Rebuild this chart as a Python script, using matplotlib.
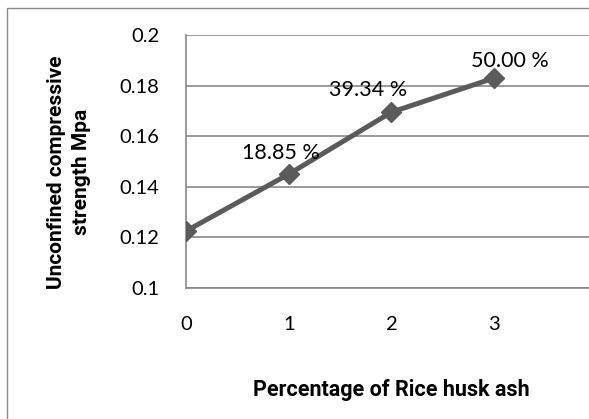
import matplotlib.pyplot as plt
from matplotlib.patches import Rectangle

plt.rcParams['font.family'] = ['Lato', 'DejaVu Sans']

# Data
rha_level = [0, 1, 2, 3]
ucs = [0.1225, 0.145, 0.1695, 0.183]
gain_labels = ['', '18.85 %', '39.34 %', '50.00 %']
label_offsets = [(0, 0), (-6, 15), (-17, 16), (11, 12)]
y_ticks = [0.1, 0.12, 0.14, 0.16, 0.18, 0.2]
y_tick_labels = ['0.1', '0.12', '0.14', '0.16', '0.18', '0.2']

grid_c = '#878787'
line_c = '#5b5b5b'
fs = 14.5
fs_lab = 15.5
bold_font = ['Roboto', 'DejaVu Sans']

fig = plt.figure(figsize=(5.89, 4.19), dpi=100)
fig.patch.set_facecolor('white')

# chart frame (left and top edges only are inside the image)
fig.patches.append(Rectangle((7 / 589, -0.1), 1.2, 1 - 8 / 419 + 0.1,
                             transform=fig.transFigure, fill=False,
                             edgecolor='#888888', linewidth=1.0))

ax = fig.add_axes([186 / 589, 1 - 288 / 419, 1 - 186 / 589 + 0.01, (288 - 35) / 419])

ax.plot(rha_level, ucs, color=line_c, linewidth=3.6, marker='D',
        markersize=10.5, markerfacecolor=line_c, markeredgecolor=line_c,
        solid_joinstyle='round', zorder=3)

for x, y, txt, off in zip(rha_level, ucs, gain_labels, label_offsets):
    if txt:
        ax.annotate(txt, (x, y), xytext=off, textcoords='offset points',
                    ha='center', va='center', fontsize=fs_lab, color='black')

ax.set_xlim(0, 3.98)
ax.set_ylim(0.1, 0.2)
ax.set_yticks(y_ticks)
ax.set_yticklabels(y_tick_labels)
ax.set_xticks(rha_level)

ax.yaxis.grid(True, color=grid_c, linewidth=1.2)
ax.set_axisbelow(True)
for s in ['top', 'right']:
    ax.spines[s].set_visible(False)
for s in ['left', 'bottom']:
    ax.spines[s].set_color(grid_c)
    ax.spines[s].set_linewidth(1.2)

ax.tick_params(axis='both', length=0, labelsize=fs)
ax.tick_params(axis='y', pad=19)
ax.tick_params(axis='x', pad=20)

ax.set_xlabel('Percentage of Rice husk ash', fontsize=fs_lab,
              fontweight='bold', family=bold_font)
ax.xaxis.set_label_coords((391 - 186) / (589 - 186 + 6), -0.36)
fig.text(69 / 589, 1 - 172 / 419, 'Unconfined compressive\nstrength Mpa',
         rotation=90, ha='center', va='center', fontsize=fs_lab - 0.5,
         fontweight='bold', linespacing=1.4, family=bold_font)

plt.savefig('out.png', dpi=100)
